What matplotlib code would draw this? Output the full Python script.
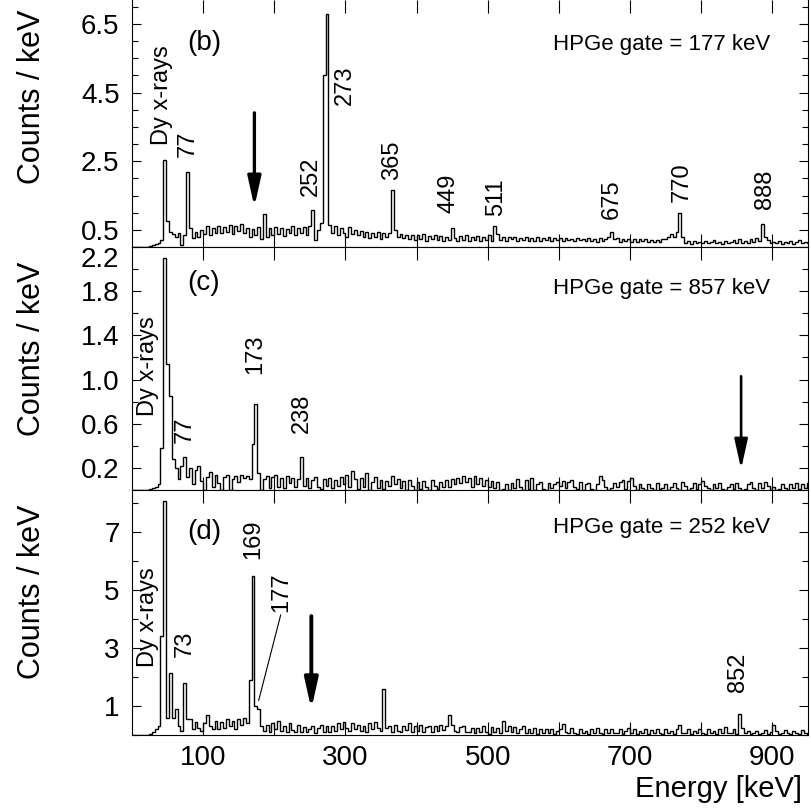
import numpy as np
import matplotlib
matplotlib.use("Agg")
import matplotlib.pyplot as plt
from matplotlib.ticker import FixedLocator, NullFormatter

plt.rcParams['font.family'] = ['Liberation Sans', 'DejaVu Sans']

# Histogram binning (keV) shared by all three gated spectra
bin_width = 4
edges = np.arange(0, 952 + bin_width, bin_width)

# Gate energies (keV)
gates = [177, 857, 252]

# (b) spectrum gated on 177 keV, counts / keV per 4 keV bin
counts_b = [
    0, 0, 0, 0, 0, 0, 0.02, 0.05, 0.08, 0.12,
    0.2, 2.55, 0.75, 0.45, 0.38, 0.3, 0.42, 0.05, 0.35, 2.18,
    0.55, 0.25, 0.45, 0.3, 0.5, 0.38, 0.6, 0.35, 0.55, 0.42,
    0.62, 0.4, 0.58, 0.45, 0.65, 0.38, 0.6, 0.48, 0.68, 0.4,
    0.55, 0.28, 0.52, 0.35, 0.58, 0.22, 0.95, 0.3, 0.55, 0.35,
    0.58, 0.38, 0.55, 0.32, 0.52, 0.4, 0.6, 0.35, 0.55, 0.42,
    0.58, 0.35, 0.6, 1.08, 0.2, 0.5, 0.7, 5.0, 6.8, 0.65,
    0.4, 0.6, 0.35, 0.55, 0.42, 0.3, 0.58, 0.38, 0.5, 0.35,
    0.48, 0.3, 0.45, 0.25, 0.42, 0.3, 0.45, 0.22, 0.4, 0.28,
    0.42, 1.65, 0.5, 0.28, 0.38, 0.25, 0.35, 0.22, 0.36, 0.2,
    0.35, 0.22, 0.38, 0.18, 0.32, 0.22, 0.35, 0.2, 0.33, 0.18,
    0.3, 0.2, 0.55, 0.25, 0.18, 0.32, 0.2, 0.34, 0.18, 0.3,
    0.2, 0.33, 0.18, 0.3, 0.2, 0.35, 0.18, 0.6, 0.38, 0.2,
    0.3, 0.18, 0.28, 0.22, 0.3, 0.18, 0.26, 0.2, 0.28, 0.17,
    0.27, 0.18, 0.3, 0.17, 0.27, 0.19, 0.3, 0.17, 0.26, 0.2,
    0.25, 0.17, 0.26, 0.2, 0.24, 0.17, 0.26, 0.19, 0.24, 0.18,
    0.26, 0.17, 0.24, 0.16, 0.25, 0.18, 0.24, 0.28, 0.45, 0.22,
    0.25, 0.16, 0.24, 0.17, 0.23, 0.16, 0.24, 0.15, 0.22, 0.17,
    0.22, 0.16, 0.2, 0.15, 0.21, 0.16, 0.24, 0.22, 0.3, 0.38,
    0.28, 0.45, 1.0, 0.28, 0.12, 0.18, 0.1, 0.17, 0.12, 0.16,
    0.12, 0.18, 0.11, 0.16, 0.2, 0.12, 0.15, 0.1, 0.17, 0.12,
    0.16, 0.2, 0.11, 0.22, 0.13, 0.17, 0.12, 0.24, 0.16, 0.25,
    0.18, 0.66, 0.3, 0.2, 0.12, 0.16, 0.11, 0.18, 0.1, 0.16,
    0.11, 0.17, 0.1, 0.16, 0.19, 0.12, 0.15, 0.11,
]

# (c) spectrum gated on 857 keV
counts_c = [
    0, 0, 0, 0, 0, 0, 0.01, 0.02, 0.03, 0.05,
    0.38, 2.1, 1.14, 0.85, 0.28, 0.2, 0.1, 0.22, 0.3, 0.12,
    0.2, 0.05, 0.18, 0.22, 0.08, 0.0, 0.12, 0.16, 0.03, 0.14,
    0.06, 0.0, 0.12, 0.14, 0.0, 0.1, 0.13, 0.07, 0.14, 0.11,
    0.13, 0.1, 0.42, 0.78, 0.15, 0.0, 0.1, 0.13, 0.02, 0.12,
    0.14, 0.03, 0.11, 0.02, 0.13, 0.06, 0.11, 0.03, 0.1, 0.3,
    0.04, 0.11, 0.02, 0.09, 0.12, 0.03, 0.01, 0.1, 0.04, 0.11,
    0.02, 0.09, 0.04, 0.12, 0.05, 0.14, 0.03, 0.17, 0.1, 0.01,
    0.11, 0.03, 0.15, 0.0, 0.07, 0.12, 0.02, 0.09, 0.01, 0.08,
    0.04, 0.13, 0.05, 0.1, 0.02, 0.08, 0.0, 0.09, 0.04, 0.0,
    0.07, 0.01, 0.08, 0.03, 0.0, 0.09, 0.04, 0.01, 0.07, 0.03,
    0.09, 0.03, 0.1, 0.05, 0.11, 0.06, 0.13, 0.07, 0.11, 0.03,
    0.13, 0.05, 0.11, 0.04, 0.09, 0.03, 0.08, 0.02, 0.07, 0.0,
    0.01, 0.05, 0.0, 0.06, 0.02, 0.1, 0.03, 0.0, 0.09, 0.01,
    0.11, 0.0, 0.05, 0.07, 0.01, 0.0, 0.06, 0.02, 0.05, 0.07,
    0.04, 0.08, 0.02, 0.07, 0.09, 0.03, 0.01, 0.07, 0.0, 0.05,
    0.06, 0.01, 0.0, 0.05, 0.13, 0.09, 0.03, 0.0, 0.02, 0.06,
    0.03, 0.07, 0.09, 0.01, 0.08, 0.11, 0.04, 0.0, 0.05, 0.02,
    0.0, 0.05, 0.02, 0.0, 0.06, 0.01, 0.02, 0.05, 0.0, 0.03,
    0.06, 0.02, 0.0, 0.07, 0.04, 0.0, 0.02, 0.06, 0.01, 0.05,
    0.08, 0.04, 0.02, 0.0, 0.05, 0.02, 0.06, 0.01, 0.0, 0.03,
    0.05, 0.01, 0.06, 0.02, 0.0, 0.01, 0.05, 0.07, 0.02, 0.0,
    0.06, 0.02, 0.07, 0.04, 0.0, 0.03, 0.0, 0.01, 0.05, 0.02,
    0.0, 0.05, 0.02, 0.06, 0.01, 0.05, 0.02, 0.06,
]

# (d) spectrum gated on 252 keV
counts_d = [
    0, 0, 0, 0, 0, 0, 0.05, 0.1, 0.2, 0.3,
    3.4, 8.06, 0.6, 2.15, 0.6, 0.9, 0.3, 0.15, 1.8, 0.55,
    0.55, 0.2, 0.45, 0.25, 0.15, 0.4, 0.7, 0.3, 0.2, 0.5,
    0.2, 0.45, 0.25, 0.55, 0.3, 0.5, 0.22, 0.55, 0.35, 0.6,
    0.4, 1.9, 5.5, 1.0, 0.9, 0.3, 0.15, 0.35, 0.12, 0.4,
    0.22, 0.5, 0.15, 0.32, 0.1, 0.4, 0.18, 0.12, 0.35, 0.1,
    0.28, 0.12, 0.22, 0.3, 0.08, 0.25, 0.35, 0.12, 0.3, 0.1,
    0.32, 0.15, 0.4, 0.2, 0.45, 0.25, 0.15, 0.42, 0.2, 0.35,
    0.15, 0.32, 0.12, 0.4, 0.2, 0.45, 0.25, 0.15, 1.58, 0.25,
    0.3, 0.12, 0.35, 0.15, 0.1, 0.32, 0.18, 0.4, 0.12, 0.3,
    0.15, 0.35, 0.1, 0.28, 0.32, 0.12, 0.3, 0.15, 0.35, 0.18,
    0.3, 0.7, 0.35, 0.15, 0.1, 0.28, 0.32, 0.12, 0.1, 0.25,
    0.08, 0.25, 0.1, 0.3, 0.12, 0.05, 0.28, 0.1, 0.25, 0.08,
    0.5, 0.15, 0.32, 0.1, 0.28, 0.08, 0.22, 0.3, 0.06, 0.2,
    0.08, 0.25, 0.05, 0.2, 0.06, 0.22, 0.08, 0.2, 0.04, 0.15,
    0.22, 0.37, 0.1, 0.06, 0.25, 0.08, 0.04, 0.2, 0.06, 0.15,
    0.04, 0.2, 0.06, 0.25, 0.08, 0.04, 0.2, 0.06, 0.22, 0.08,
    0.06, 0.2, 0.04, 0.15, 0.25, 0.06, 0.2, 0.04, 0.15, 0.06,
    0.2, 0.04, 0.16, 0.06, 0.22, 0.08, 0.04, 0.2, 0.06, 0.15,
    0.04, 0.2, 0.33, 0.08, 0.06, 0.2, 0.04, 0.15, 0.06, 0.2,
    0.08, 0.04, 0.2, 0.06, 0.15, 0.04, 0.2, 0.06, 0.29, 0.08,
    0.06, 0.2, 0.04, 0.71, 0.25, 0.06, 0.15, 0.04, 0.08, 0.15,
    0.04, 0.08, 0.16, 0.04, 0.1, 0.35, 0.15, 0.04, 0.08, 0.16,
    0.06, 0.04, 0.15, 0.08, 0.04, 0.16, 0.08, 0.04,
]

# Peak annotations: (text, energy of label centre, counts at label foot)
labels_b = [("Dy x-rays", 42, 2.98), ("77", 79, 2.63), ("252", 251, 1.49),
            ("273", 299, 4.15), ("365", 365, 1.96), ("449", 445, 0.99),
            ("511", 511, 0.90), ("675", 674, 0.82), ("770", 772, 1.31),
            ("888", 890, 1.11)]
labels_c = [("Dy x-rays", 23, 0.67), ("77", 74, 0.43), ("173", 173, 1.05),
            ("238", 239, 0.52)]
labels_d = [("Dy x-rays", 23, 2.33), ("73", 74, 2.68), ("169", 170, 6.07),
            ("852", 851, 1.47)]

# Arrows marking the gating transition: (energy, tail, tip)
arrow_b = (172, 3.91, 1.17)
arrow_c = (856, 1.03, 0.19)
arrow_d = (252, 4.10, 0.89)

# Axis ranges and ticks
xlim = (0, 950)
xticks = [100, 200, 300, 400, 500, 600, 700, 800, 900]
ylims = [(0, 7.2), (0, 2.2), (0, 8.45)]
ymajor = [[0.5, 2.5, 4.5, 6.5], [0.2, 0.6, 1.0, 1.4, 1.8, 2.2], [1, 3, 5, 7]]
yminor = [np.arange(0, 7.01, 0.5), np.arange(0, 2.21, 0.2), np.arange(0, 8.01, 1)]
tags = ["(b)", "(c)", "(d)"]

W, H = 811, 808
fig = plt.figure(figsize=(W / 100, H / 100), dpi=100)

left, width = 132 / W, 676 / W
boxes = [(0, 247), (247, 490), (490, 735)]
axes = [fig.add_axes([left, 1 - b / H, width, (b - t) / H]) for t, b in boxes]

spectra = [counts_b, counts_c, counts_d]
all_labels = [labels_b, labels_c, labels_d]
arrows = [arrow_b, arrow_c, arrow_d]
arrow_lw = [2.4, 1.9, 2.8]
tag_y = [0.826, 0.85, 0.83]
gate_y = [0.82, 0.83, 0.845]
ylab_y = [0.96, 0.94, 0.94]

for i, ax in enumerate(axes):
    ax.stairs(spectra[i], edges, color="black", lw=1.0, baseline=0)
    ax.set_xlim(*xlim)
    ax.set_ylim(*ylims[i])

    ax.xaxis.set_major_locator(FixedLocator(xticks))
    ax.yaxis.set_major_locator(FixedLocator(ymajor[i]))
    ax.yaxis.set_minor_locator(FixedLocator(yminor[i]))
    ax.set_yticklabels([f"{v:g}" if i != 1 else f"{v:.1f}" for v in ymajor[i]])
    if i == 2:
        ax.set_xticklabels([str(v) if (v // 100) % 2 == 1 else "" for v in xticks])
    else:
        ax.xaxis.set_major_formatter(NullFormatter())

    ax.tick_params(axis="both", which="both", direction="in",
                   top=True, right=True, width=0.8, labelsize=20)
    ax.tick_params(axis="x", which="major", length=9.5, pad=7)
    ax.tick_params(axis="y", which="major", length=6.5, pad=9)
    ax.tick_params(axis="y", which="minor", length=4.3)
    for s in ax.spines.values():
        s.set_linewidth(0.8)
    if i == 0:
        ax.spines["top"].set_visible(False)

    ax.set_ylabel("Counts / keV", fontsize=22, loc="top")
    ax.yaxis.set_label_coords(-0.148, ylab_y[i])
    ax.yaxis.label.set_va("center")

    ax.text(0.081, tag_y[i], tags[i], transform=ax.transAxes,
            ha="left", va="center", fontsize=20)
    ax.text(0.944, gate_y[i], f"HPGe gate = {gates[i]} keV",
            transform=ax.transAxes, ha="right", va="center", fontsize=16)

    for txt, e, yv in all_labels[i]:
        ax.text(e, yv, txt, rotation=90, ha="center", va="bottom", fontsize=17)

    e, tail, tip = arrows[i]
    ax.annotate("", xy=(e, tip), xytext=(e, tail),
                arrowprops=dict(arrowstyle="-|>,head_length=18,head_width=4",
                                mutation_scale=1, lw=arrow_lw[i],
                                color="black", shrinkA=0, shrinkB=0))

# The 177 keV shoulder in (d) is labelled through a leader line
axes[2].annotate("177", xy=(178, 1.19), xytext=(210, 4.24), rotation=90,
                 ha="center", va="bottom", fontsize=17,
                 arrowprops=dict(arrowstyle="-", lw=0.8, color="black",
                                 shrinkA=0, shrinkB=0,
                                 relpos=(0.5, 0.0)))

# Keep the top label of (c) inside its own panel
axes[1].yaxis.get_major_ticks()[-1].label1.set_va("top")

axes[2].set_xlabel("Energy [keV]", fontsize=21, loc="right")
axes[2].xaxis.set_label_coords(0.991, -0.165)

fig.savefig("out.png", dpi=100)
